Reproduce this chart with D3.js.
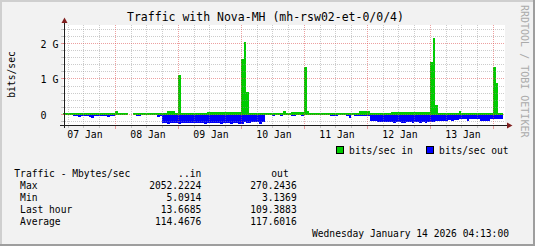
<!DOCTYPE html>
<html>
<head>
<meta charset="utf-8">
<script src="https://cdn.jsdelivr.net/npm/d3@7"></script>
<style>
    body { margin: 0; background: #f2f2f2; }
    svg { display: block; font-family: "DejaVu Sans Mono", monospace; }
</style>
</head>
<body>
<div id="chart"></div>
<script>
// hourly averages in Gbit/s, first bin starts Wed 07 Jan 04:00
const binStart = Date.UTC(2026, 0, 7, 4, 0)
const viewStart = Date.UTC(2026, 0, 7, 4, 13)
const viewEnd = Date.UTC(2026, 0, 14, 4, 13)

const trafficIn = [
    0.01, 0.01, 0.01, 0.01, 0.01, 0.05, 0.05, 0.02, 0.02, 0.05, 0.05, 0.05,
    0.05, 0.04, 0.01, 0.01, 0.04, 0.04, 0.01, 0.01, 0.11, 0.01, 0.01, 0.01,
    0.01, null, null, 0.01, 0.01, 0.04, 0.04, 0.04, 0.04, 0.04, 0.04, 0.04,
    0.01, 0.01, 0.04, 0.04, 0.09, 0.09, 0.09, 0.01, 1.10, 0.01, 0.01, 0.01,
    0.01, 0.01, 0.01, 0.01, 0.05, 0.05, 0.05, 0.07, 0.07, 0.06, 0.06, 0.07,
    0.07, 0.06, 0.06, 0.06, 0.07, 0.07, 0.06, 0.07, 1.55, 2.05, 0.63, 0.05,
    0.03, 0.01, 0.01, 0.01, 0.01, 0.01, 0.01, 0.04, 0.04, 0.04, 0.02, 0.02,
    0.09, 0.04, 0.04, 0.07, 0.07, 0.07, 0.07, 0.07, 1.33, 0.09, 0.01, 0.01,
    0.01, 0.01, 0.01, 0.01, 0.01, 0.01, 0.01, 0.01, 0.04, 0.04, 0.04, 0.04,
    0.04, 0.04, 0.04, 0.04, 0.04, 0.09, 0.09, 0.09, 0.09, 0.01, 0.01, 0.01,
    0.01, 0.01, 0.01, 0.01, 0.01, 0.06, 0.07, 0.07, 0.06, 0.06, 0.07, 0.07,
    0.06, 0.07, 0.07, 0.07, 0.07, 0.07, 0.07, 0.07, 1.49, 2.15, 0.26, 0.01,
    0.01, 0.01, 0.01, 0.04, 0.04, 0.04, 0.04, 0.09, 0.05, 0.05, 0.04, 0.05,
    0.05, 0.04, 0.05, 0.05, 0.04, 0.05, 0.05, 0.05, 1.35, 0.89, 0.01, 0.01
]
const trafficOut = [
    0, 0, 0, 0, 0.03, 0.03, 0.08, 0.03, 0.03, 0.03, 0.08, 0.11,
    0.04, 0.03, 0.03, 0.03, 0.03, 0.08, 0.03, 0.03, 0, 0, 0, 0,
    0, null, null, 0.01, 0.04, 0.03, 0, 0, 0, 0, 0, 0,
    0.07, 0.03, 0.24, 0.25, 0.28, 0.25, 0.24, 0.24, 0.28, 0.24, 0.24, 0.25,
    0.24, 0.24, 0.25, 0.24, 0.24, 0.25, 0.28, 0.25, 0.24, 0.24, 0.25, 0.24,
    0.28, 0.25, 0.24, 0.24, 0.27, 0.25, 0.24, 0.27, 0.27, 0.21, 0.23, 0.23,
    0.21, 0.21, 0.21, 0.26, 0.21, 0.02, 0, 0, 0.03, 0, 0, 0.03,
    0, 0, 0, 0.04, 0.03, 0, 0, 0.03, 0, 0, 0, 0,
    0, 0, 0, 0, 0, 0, 0.03, 0.03, 0.03, 0, 0, 0,
    0.03, 0.10, 0, 0.03, 0.03, 0.03, 0.03, 0.03, 0.03, 0.18, 0.19, 0.19,
    0.20, 0.21, 0.22, 0.22, 0.21, 0.22, 0.23, 0.22, 0.22, 0.23, 0.23, 0.22,
    0.22, 0.23, 0.22, 0.22, 0.23, 0.22, 0.23, 0.22, 0.22, 0.20, 0.18, 0.18,
    0.18, 0.18, 0.18, 0.15, 0.18, 0.15, 0.15, 0.14, 0.14, 0.14, 0.18, 0.14,
    0.14, 0.14, 0.14, 0.18, 0.18, 0.18, 0.18, 0.14, 0.14, 0.14, 0.14, 0.14
]

const chartTitle = "Traffic with Nova-MH (mh-rsw02-et-0/0/4)"
const yAxisTitle = "bits/sec"
const yTicks = [0, 1, 2]
const yTickLabels = ["0", "1 G", "2 G"]
const dayLabels = ["07 Jan", "08 Jan", "09 Jan", "10 Jan", "11 Jan", "12 Jan", "13 Jan"]
const seriesNames = ["bits/sec in", "bits/sec out"]
const seriesColors = ["#00cc00", "#0000ff"]
const statsHeader = ["Traffic - Mbytes/sec", "..in", "out"]
const statNames = ["Max", "Min", "Last hour", "Average"]
const statsIn = ["2052.2224", "5.0914", "13.6685", "114.4676"]
const statsOut = ["270.2436", "3.1369", "109.3883", "117.6016"]
const timeStamp = "Wednesday January 14 2026 04:13:00"
const watermark = "RRDTOOL / TOBI OETIKER"

class TrafficGraph {
    constructor(_config) {
        this.config = {
            parentElement: _config.parentElement,
            containerWidth: 535,
            containerHeight: 246,
            plot: { left: 63, right: 504, top: 25.75, bottom: 125.15 },
            gridColor: "rgba(143,143,143,0.45)",
            majorGridColor: "rgba(222,79,79,0.54)",
            axisColor: "#1f1f1f",
            arrowColor: "#801f1f"
        }
        this.data = this.processData()
        this.initVis()
    }

    processData() {
        var hour = 3600 * 1000
        return trafficIn.map(function (v, i) {
            return {
                t0: new Date(binStart + i * hour),
                t1: new Date(binStart + (i + 1) * hour),
                vin: v,
                vout: trafficOut[i]
            }
        })
    }

    initVis() {
        var vis = this
        var p = vis.config.plot

        vis.xScale = d3.scaleUtc()
            .domain([new Date(viewStart), new Date(viewEnd)])
            .range([p.left, p.right])
        vis.yScale = d3.scaleLinear()
            .domain([-0.3, 2.5])
            .range([p.bottom, p.top])

        vis.svg = d3.select(vis.config.parentElement).append("svg")
            .attr("width", vis.config.containerWidth)
            .attr("height", vis.config.containerHeight)

        // background with shaded border
        vis.svg.append("rect")
            .attr("width", vis.config.containerWidth)
            .attr("height", vis.config.containerHeight)
            .attr("fill", "#f2f2f2")
        vis.svg.append("path")
            .attr("d", "M1,245V1H534")
            .attr("fill", "none").attr("stroke", "#cfcfcf").attr("stroke-width", 2)
        vis.svg.append("path")
            .attr("d", "M0,245H534V0")
            .attr("fill", "none").attr("stroke", "#9e9e9e").attr("stroke-width", 2)

        vis.svg.append("rect")
            .attr("x", p.left)
            .attr("y", 25)
            .attr("width", p.right - p.left + 1)
            .attr("height", 100)
            .attr("fill", "#ffffff")

        vis.svg.append("clipPath").attr("id", "plot-clip")
            .append("rect")
            .attr("x", p.left)
            .attr("y", 25)
            .attr("width", p.right - p.left + 1)
            .attr("height", 100)

        vis.chart = vis.svg.append("g").attr("clip-path", "url(#plot-clip)")

        vis.renderVis()
        vis.renderAxes()
        vis.renderText()
    }

    renderVis() {
        var vis = this
        var zeroY = Math.floor(vis.yScale(0)) + 0.5

        var steps = function (key) {
            return vis.data.flatMap(d => [{ t: d.t0, v: d[key] }, { t: d.t1, v: d[key] }])
        }

        // in: never thinner than 2px so the zero line shows
        var inArea = d3.area()
            .defined(d => d.v !== null)
            .x(d => vis.xScale(d.t))
            .y0(zeroY + 0.5)
            .y1(d => Math.min(vis.yScale(d.v), zeroY - 1.5))

        var outArea = d3.area()
            .defined(d => d.v !== null)
            .x(d => vis.xScale(d.t))
            .y0(zeroY + 0.5)
            .y1(d => Math.max(vis.yScale(-d.v), zeroY + 0.5))

        vis.chart.append("path")
            .attr("d", outArea(steps("vout")))
            .attr("fill", seriesColors[1])
            .attr("shape-rendering", "crispEdges")
        vis.chart.append("path")
            .attr("d", inArea(steps("vin")))
            .attr("fill", seriesColors[0])
            .attr("shape-rendering", "crispEdges")

        // grid over the data, like rrdtool
        var grid = vis.chart.append("g")
            .attr("shape-rendering", "crispEdges")
            .attr("stroke-dasharray", "1,1")

        var minorY = d3.range(-1, 13).map(i => i / 5).filter(v => yTicks.indexOf(Math.round(v * 5) / 5) < 0)
        grid.selectAll(".hminor")
            .data(minorY)
            .join("line")
            .attr("x1", vis.config.plot.left).attr("x2", vis.config.plot.right + 1)
            .attr("y1", d => Math.floor(vis.yScale(d)) + 0.5)
            .attr("y2", d => Math.floor(vis.yScale(d)) + 0.5)
            .attr("stroke", vis.config.gridColor)

        var sixHours = d3.utcHour.every(6).range(new Date(viewStart), new Date(viewEnd))
            .filter(t => t.getUTCHours() !== 0)
        grid.selectAll(".vminor")
            .data(sixHours)
            .join("line")
            .attr("x1", d => Math.round(vis.xScale(d)) + 0.5)
            .attr("x2", d => Math.round(vis.xScale(d)) + 0.5)
            .attr("y1", 25).attr("y2", 125)
            .attr("stroke", vis.config.gridColor)

        grid.selectAll(".hmajor")
            .data(yTicks)
            .join("line")
            .attr("x1", vis.config.plot.left).attr("x2", vis.config.plot.right + 1)
            .attr("y1", d => Math.floor(vis.yScale(d)) + 0.5)
            .attr("y2", d => Math.floor(vis.yScale(d)) + 0.5)
            .attr("stroke", vis.config.majorGridColor)

        vis.midnights = d3.utcDay.range(new Date(viewStart), new Date(viewEnd))
        grid.selectAll(".vmajor")
            .data(vis.midnights)
            .join("line")
            .attr("x1", d => Math.round(vis.xScale(d)) + 0.5)
            .attr("x2", d => Math.round(vis.xScale(d)) + 0.5)
            .attr("y1", 25).attr("y2", 125)
            .attr("stroke", vis.config.majorGridColor)
    }

    renderAxes() {
        var vis = this
        var sixHours = d3.utcHour.every(6).range(new Date(viewStart), new Date(viewEnd))

        var ticks = vis.svg.append("g").attr("shape-rendering", "crispEdges")
        ticks.selectAll(".xtick")
            .data(sixHours)
            .join("line")
            .attr("x1", d => Math.round(vis.xScale(d)) + 0.5)
            .attr("x2", d => Math.round(vis.xScale(d)) + 0.5)
            .attr("y1", 126).attr("y2", d => d.getUTCHours() === 0 ? 129 : 128)
            .attr("stroke", d => d.getUTCHours() === 0 ? vis.config.majorGridColor : vis.config.gridColor)
        ticks.selectAll(".ytick")
            .data(d3.range(-1, 13).map(i => i / 5))
            .join("line")
            .attr("x1", 61).attr("x2", 64)
            .attr("y1", d => Math.floor(vis.yScale(d)) + 0.5)
            .attr("y2", d => Math.floor(vis.yScale(d)) + 0.5)
            .attr("stroke", (d, i) => (i - 1) % 5 === 0 ? vis.config.majorGridColor : vis.config.gridColor)

        // axis lines and arrows
        ticks.append("line")
            .attr("x1", 60).attr("x2", 508).attr("y1", 125.5).attr("y2", 125.5)
            .attr("stroke", vis.config.axisColor)
        ticks.append("line")
            .attr("x1", 64.5).attr("x2", 64.5).attr("y1", 128).attr("y2", 21)
            .attr("stroke", vis.config.axisColor)
        vis.svg.append("path")
            .attr("d", "M507,122.5L512.5,125.5L507,128.5Z")
            .attr("fill", vis.config.arrowColor)
        vis.svg.append("path")
            .attr("d", "M61.5,23L64.5,17.5L67.5,23Z")
            .attr("fill", vis.config.arrowColor)

        vis.yAxis = d3.axisLeft(vis.yScale)
            .tickValues(yTicks)
            .tickFormat((d, i) => yTickLabels[i])
            .tickSize(0)
        vis.yAxisGroup = vis.svg.append("g")
            .attr("class", "axis y-axis")
            .attr("transform", "translate(64,0.5)")
            .call(vis.yAxis)
        vis.yAxisGroup.select(".domain").remove()
        vis.yAxisGroup.selectAll("text")
            .attr("text-anchor", "start")
            .attr("x", -23.5)
            .attr("fill", "#000")
            .style("font-size", "10px")
            .style("font-family", "DejaVu Sans Mono")

        var noons = dayLabels.map((d, i) => d3.utcHour.offset(vis.midnights[0], 12 + 24 * (i - 1)))
        vis.xAxis = d3.axisBottom(vis.xScale)
            .tickValues(noons)
            .tickFormat((d, i) => dayLabels[i])
            .tickSize(0)
            .tickPadding(6)
        vis.xAxisGroup = vis.svg.append("g")
            .attr("class", "axis x-axis")
            .attr("transform", "translate(1,125)")
            .call(vis.xAxis)
        vis.xAxisGroup.select(".domain").remove()
        vis.xAxisGroup.selectAll("text")
            .attr("fill", "#000")
            .style("font-size", "9.8px")
            .style("font-family", "DejaVu Sans Mono")
    }

    renderText() {
        var vis = this
        var txt = vis.svg.append("g").attr("fill", "#000")

        txt.append("text")
            .attr("x", 265.5).attr("y", 21)
            .attr("text-anchor", "middle")
            .style("font-size", "11.5px")
            .text(chartTitle)

        txt.append("text")
            .attr("transform", "translate(14.7,74.5) rotate(-90)")
            .attr("text-anchor", "middle")
            .style("font-size", "9.7px")
            .text(yAxisTitle)

        vis.svg.append("text")
            .attr("transform", "translate(520.8,5) rotate(90)")
            .attr("fill", "#aaaaaa")
            .style("font-size", "10px")
            .text(watermark)

        // legend
        var legendX = [336.5, 426.5]
        var legend = vis.svg.append("g").style("font-size", "9.65px")
        legend.selectAll("rect")
            .data(seriesNames)
            .join("rect")
            .attr("x", (d, i) => legendX[i]).attr("y", 146.5)
            .attr("width", 7).attr("height", 7)
            .attr("fill", (d, i) => seriesColors[i])
            .attr("stroke", "#000")
        legend.selectAll("text")
            .data(seriesNames)
            .join("text")
            .attr("x", (d, i) => legendX[i] + 12.6).attr("y", 153.5)
            .text(d => d)

        // statistics table
        var table = vis.svg.append("g").style("font-size", "9.65px")
        table.append("text").attr("x", 14.3).attr("y", 176.8).text(statsHeader[0])
        table.append("text").attr("x", 201.3).attr("y", 176.8).attr("text-anchor", "end").text(statsHeader[1])
        table.append("text").attr("x", 288.7).attr("y", 176.8).attr("text-anchor", "end").text(statsHeader[2])
        statNames.forEach(function (name, i) {
            var y = 188.8 + i * 12
            table.append("text").attr("x", 20.1).attr("y", y).text(name)
            table.append("text").attr("x", 201.3).attr("y", y).attr("text-anchor", "end").text(statsIn[i])
            table.append("text").attr("x", 296.7).attr("y", y).attr("text-anchor", "end").text(statsOut[i])
        })
        table.append("text").attr("x", 509).attr("y", 236.6).attr("text-anchor", "end").text(timeStamp)
    }
}

new TrafficGraph({ parentElement: "#chart" })
</script>
</body>
</html>
